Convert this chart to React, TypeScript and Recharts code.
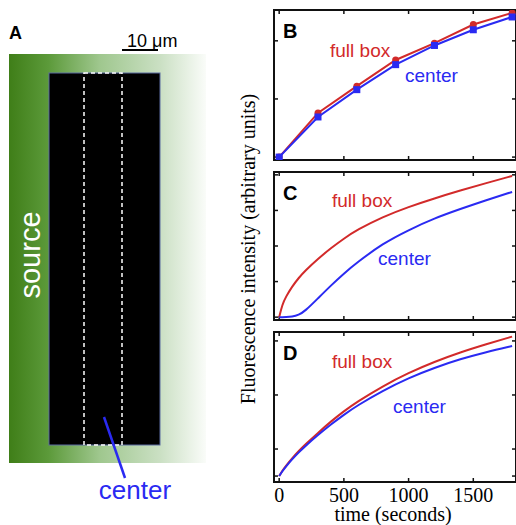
import { Line, LineChart, ReferenceArea, ReferenceLine, XAxis, YAxis } from "recharts";

// panel B: measured points
const timeB = [0, 300, 600, 900, 1200, 1500, 1800];
const fullBoxB = [0, 0.76, 1.22, 1.67, 1.96, 2.28, 2.48];
const centerB = [0, 0.69, 1.16, 1.59, 1.92, 2.19, 2.41];

// panels C and D: model curves
const timeCD = [0, 25, 50, 100, 150, 200, 300, 400, 500, 600, 800, 1000, 1200, 1400, 1600, 1800];
const fullBoxC = [0, 0.36, 0.56, 0.86, 1.1, 1.3, 1.64, 1.94, 2.21, 2.45, 2.82, 3.1, 3.34, 3.56, 3.77, 3.97];
const centerC = [0, 0, 0, 0.01, 0.06, 0.17, 0.53, 0.89, 1.23, 1.53, 2.07, 2.45, 2.78, 3.04, 3.29, 3.52];
const fullBoxD = [0, 0.2, 0.37, 0.66, 0.92, 1.16, 1.6, 2.02, 2.4, 2.74, 3.33, 3.82, 4.23, 4.58, 4.88, 5.16];
const centerD = [0, 0.18, 0.34, 0.62, 0.87, 1.1, 1.52, 1.91, 2.27, 2.6, 3.16, 3.63, 4.01, 4.33, 4.59, 4.81];

const timeTicks = [0, 500, 1000, 1500];
const ticksB = [0, 1, 2];
const ticksC = [0, 1, 2, 3, 4];
const ticksD = [0, 1, 3, 5];

const RED = "#d22a2a";
const BLUE = "#2a2af2";
const INK = "#111";
const SANS = "'Liberation Sans', Arial, sans-serif";
const SERIF = "'Liberation Serif', 'Times New Roman', serif";

const PLOT_LEFT = 274;
const PLOT_W = 242;
const X_DOMAIN: [number, number] = [-40, 1830];
const M = 5;
const TICK_PX = 4;

const toRows = (t: number[], a: number[], b: number[]) =>
  t.map((x, i) => ({ t: x, full: a[i], center: b[i] }));

type PanelProps = {
  top: number;
  plotH: number;
  yDomain: [number, number];
  yTicks: number[];
  rows: { t: number; full: number; center: number }[];
  markers?: boolean;
  showX?: boolean;
};

function Panel({ top, plotH, yDomain, yTicks, rows, markers, showX }: PanelProps) {
  const axisH = showX ? 40 : 0;
  const curve = markers ? "linear" : "basis";
  const [x0, x1] = X_DOMAIN;
  const [y0, y1] = yDomain;
  // inward tick length, in data units
  const dx = (TICK_PX * (x1 - x0)) / PLOT_W;
  const dy = (TICK_PX * (y1 - y0)) / plotH;
  const tickProps = { stroke: INK, strokeWidth: 1.5, ifOverflow: "visible" as const };

  return (
    <div style={{ position: "absolute", left: PLOT_LEFT - M, top: top - M }}>
      <LineChart
        width={PLOT_W + 2 * M}
        height={plotH + 2 * M + axisH}
        data={rows}
        margin={{ top: M, right: M, bottom: M, left: M }}
      >
        <XAxis
          dataKey="t"
          type="number"
          domain={X_DOMAIN}
          ticks={timeTicks}
          allowDataOverflow
          interval={0}
          hide={!showX}
          height={axisH}
          tickSize={0}
          tickMargin={6}
          axisLine={false}
          tickLine={false}
          tick={{ fill: "#000", fontSize: 20, fontFamily: SERIF }}
        />
        <YAxis type="number" domain={yDomain} ticks={yTicks} allowDataOverflow hide />
        <ReferenceArea
          x1={x0}
          x2={x1}
          y1={y0}
          y2={y1}
          fill="none"
          fillOpacity={0}
          stroke={INK}
          strokeWidth={2}
          ifOverflow="visible"
        />
        {timeTicks.map((t) => (
          <ReferenceLine key={`b${t}`} segment={[{ x: t, y: y0 }, { x: t, y: y0 + dy }]} {...tickProps} />
        ))}
        {timeTicks.map((t) => (
          <ReferenceLine key={`t${t}`} segment={[{ x: t, y: y1 - dy }, { x: t, y: y1 }]} {...tickProps} />
        ))}
        {yTicks.map((v) => (
          <ReferenceLine key={`l${v}`} segment={[{ x: x0, y: v }, { x: x0 + dx, y: v }]} {...tickProps} />
        ))}
        {yTicks.map((v) => (
          <ReferenceLine key={`r${v}`} segment={[{ x: x1 - dx, y: v }, { x: x1, y: v }]} {...tickProps} />
        ))}
        <Line
          dataKey="full"
          type={curve}
          stroke={RED}
          strokeWidth={2}
          dot={markers ? { r: 3.5, fill: RED, stroke: RED, strokeWidth: 0 } : false}
          activeDot={false}
          isAnimationActive={false}
        />
        <Line
          dataKey="center"
          type={curve}
          stroke={BLUE}
          strokeWidth={2}
          dot={
            markers
              ? (p: any) => (
                  <rect key={`sq-${p.index}`} x={p.cx - 3.5} y={p.cy - 3.5} width={7} height={7} fill={BLUE} />
                )
              : false
          }
          activeDot={false}
          isAnimationActive={false}
        />
      </LineChart>
    </div>
  );
}

function PanelA() {
  return (
    <svg width={240} height={525} style={{ position: "absolute", left: 0, top: 0 }}>
      <defs>
        <linearGradient id="source" x1="0" x2="1" y1="0" y2="0">
          <stop offset="0" stopColor="#3f7e18" />
          <stop offset="0.2" stopColor="#5c9a3a" />
          <stop offset="0.46" stopColor="#9fc78e" />
          <stop offset="0.77" stopColor="#cbe0c4" />
          <stop offset="1" stopColor="#fafcf9" />
        </linearGradient>
      </defs>
      <text x={9} y={39} fontFamily={SANS} fontWeight="bold" fontSize={18}>A</text>
      <text x={127} y={47} fontFamily={SANS} fontSize={18}>10 μm</text>
      <line x1={122} x2={158} y1={50} y2={50} stroke="#000" strokeWidth={2} />
      <rect x={9} y={54} width={197} height={409} fill="url(#source)" />
      <rect x={49} y={73} width={111} height={372} fill="#000" stroke="#5a6aa0" strokeWidth={1} />
      <rect x={84} y={73} width={38} height={372} fill="none" stroke="#fff" strokeWidth={1.5} strokeDasharray="4 3" />
      <text x={40} y={255} transform="rotate(-90 40 255)" textAnchor="middle" fill="#fff" fontFamily={SANS} fontSize={29}>
        source
      </text>
      <line x1={104} y1={417} x2={125} y2={478} stroke={BLUE} strokeWidth={2.5} />
      <text x={135} y={499} textAnchor="middle" fill={BLUE} fontFamily={SANS} fontSize={26}>center</text>
    </svg>
  );
}

function Labels() {
  const lab = (x: number, y: number, fill: string, s: string) => (
    <text x={x} y={y} fill={fill} fontFamily={SANS} fontSize={19}>{s}</text>
  );
  const letter = (y: number, s: string) => (
    <text x={283} y={y} fontFamily={SANS} fontWeight="bold" fontSize={20}>{s}</text>
  );
  return (
    <svg width={516} height={525} style={{ position: "absolute", left: 0, top: 0, pointerEvents: "none" }}>
      {letter(38, "B")}
      {letter(200, "C")}
      {letter(360, "D")}
      {lab(330, 57, RED, "full box")}
      {lab(405, 82, BLUE, "center")}
      {lab(332, 207, RED, "full box")}
      {lab(378, 265, BLUE, "center")}
      {lab(332, 368, RED, "full box")}
      {lab(393, 413, BLUE, "center")}
      <text x={255} y={249} transform="rotate(-90 255 249)" textAnchor="middle" fontFamily={SERIF} fontSize={20}>
        Fluorescence intensity (arbitrary units)
      </text>
      <text x={393} y={521} textAnchor="middle" fontFamily={SERIF} fontSize={20}>time (seconds)</text>
    </svg>
  );
}

export default function App() {
  return (
    <div style={{ position: "absolute", left: 0, top: 0, width: 516, height: 525, overflow: "hidden", background: "#fff" }}>
      <PanelA />
      <Panel top={10} plotH={150} yDomain={[-0.05, 2.53]} yTicks={ticksB} rows={toRows(timeB, fullBoxB, centerB)} markers />
      <Panel top={172} plotH={148} yDomain={[-0.08, 4.08]} yTicks={ticksC} rows={toRows(timeCD, fullBoxC, centerC)} />
      <Panel top={332} plotH={150} yDomain={[-0.22, 5.33]} yTicks={ticksD} rows={toRows(timeCD, fullBoxD, centerD)} showX />
      <Labels />
    </div>
  );
}
